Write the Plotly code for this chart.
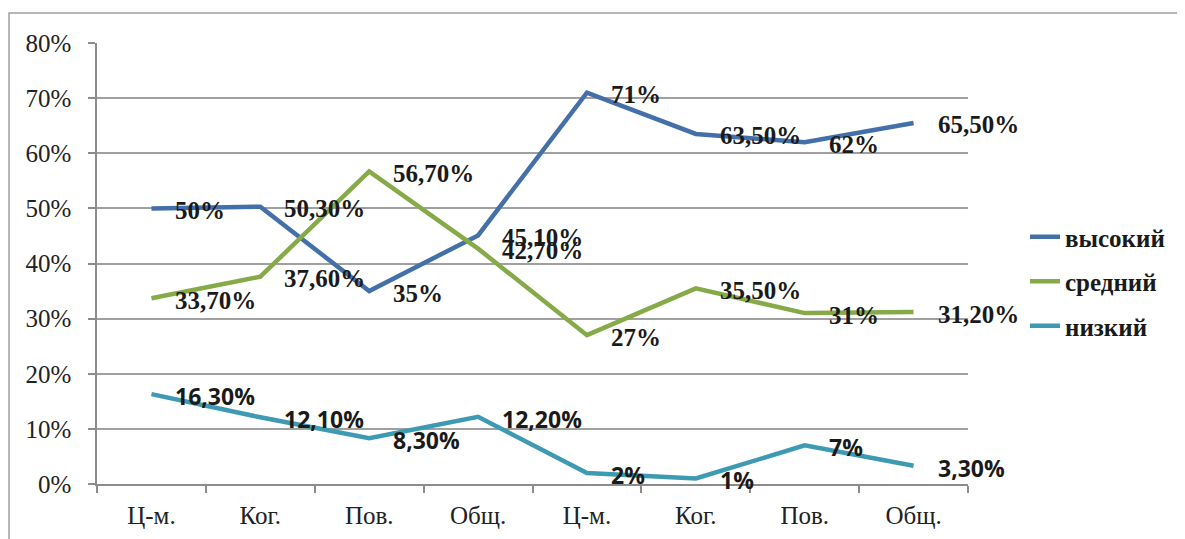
import plotly.graph_objects as go

categories = ["Ц-м.", "Ког.", "Пов.", "Общ.", "Ц-м.", "Ког.", "Пов.", "Общ."]
high = [50, 50.3, 35, 45.1, 71, 63.5, 62, 65.5]
mid = [33.7, 37.6, 56.7, 42.7, 27, 35.5, 31, 31.2]
low = [16.3, 12.1, 8.3, 12.2, 2, 1, 7, 3.3]

SERIF = "Liberation Serif, Times New Roman, serif"
SANS = "Open Sans, sans-serif"
series = [
    ("высокий", high, "#4470aa", SERIF, 25),
    ("средний", mid, "#86aa48", SERIF, 25),
    ("низкий", low, "#3d9ab2", SANS, 23),
]

# the page body has an 8px margin, so the figure is laid out 8px in from the window
W, H = 1177, 531
L, T = 89, 35
PR, PB = 960, 476          # right / bottom edge of the plot area
R, B = W - PR, H - PB
pw = PR - L
ph = PB - T


def fmt(v):
    if float(v).is_integer():
        return "%d%%" % v
    return ("%.2f" % v).replace(".", ",") + "%"


x = list(range(len(categories)))
fig = go.Figure()
annotations = []
for name, vals, color, lab_font, lab_size in series:
    fig.add_trace(go.Scatter(
        x=x, y=vals, mode="lines", name=name,
        line=dict(color=color, width=4.5),
        legendgroup=name,
    ))
    for xi, v in zip(x, vals):
        annotations.append(dict(
            x=xi, y=v, xref="x", yref="y", text=fmt(v),
            showarrow=False, xanchor="left", yanchor="middle",
            xshift=22, yshift=-2,
            font=dict(family=lab_font, size=lab_size, color="#1a1a1a", weight="bold"),
        ))

fig.update_layout(
    width=W, height=H,
    margin=dict(l=L, r=R, t=T, b=B, autoexpand=False),
    paper_bgcolor="white", plot_bgcolor="white",
    font=dict(family=SERIF, size=25, color="#222222"),
    showlegend=True,
    legend=dict(
        x=(1017 - L) / pw, y=1 - (206 - T) / ph, xanchor="left", yanchor="top",
        font=dict(family=SERIF, size=25, color="#1a1a1a", weight="bold"),
        tracegroupgap=9, traceorder="grouped",
        bgcolor="rgba(0,0,0,0)",
    ),
    annotations=annotations,
    shapes=[dict(
        type="rect", xref="paper", yref="paper",
        x0=(1 - L) / pw, x1=(W + 20 - L) / pw,
        y0=-(H + 20 - PB) / ph, y1=1 + (T - 5) / ph,
        line=dict(color="#a0a0a0", width=1.5),
    )],
)

fig.update_xaxes(
    range=[-0.5, len(categories) - 0.5], automargin=False,
    tickmode="array", tickvals=x, ticktext=categories,
    ticks="", showgrid=False, zeroline=False,
    showline=True, linecolor="#8c8c8c", linewidth=1.5,
    ticklabelstandoff=8,
    tickfont=dict(family=SERIF, size=25, color="#222222"),
    minor=dict(tickmode="array", tickvals=[i - 0.5 for i in range(len(categories) + 1)],
               ticks="outside", ticklen=7, tickcolor="#8c8c8c", tickwidth=1.5,
               showgrid=False),
)
fig.update_yaxes(
    range=[0, 80], dtick=10, ticksuffix="%", automargin=False,
    ticks="outside", ticklen=7, tickcolor="#8c8c8c", tickwidth=1.5,
    showgrid=True, gridcolor="#a0a0a0", gridwidth=1.5,
    zeroline=False, showline=True, linecolor="#8c8c8c", linewidth=1.5,
    ticklabelstandoff=12,
    tickfont=dict(family=SERIF, size=25, color="#222222"),
)

fig.write_html("out.html")
